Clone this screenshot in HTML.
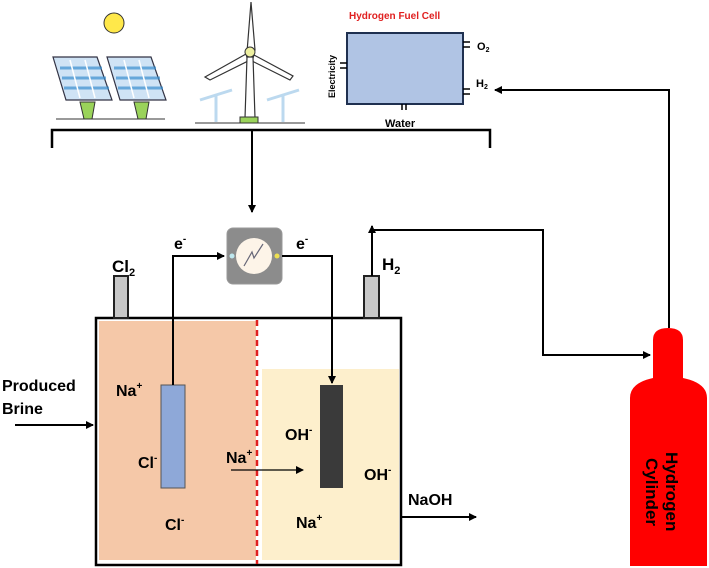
<!DOCTYPE html>
<html><head><meta charset="utf-8"><style>
body{margin:0;background:#fff;}
svg{display:block;font-family:"Liberation Sans",sans-serif;font-weight:bold;}
</style></head><body>
<svg width="709" height="568" viewBox="0 0 709 568" xmlns="http://www.w3.org/2000/svg">
<defs><marker id="a" markerWidth="8" markerHeight="8" refX="7" refY="4" orient="auto" markerUnits="userSpaceOnUse"><path d="M0,0 L8,4 L0,8 Z" fill="#000"/></marker></defs>
<!-- solar panels -->
<circle cx="114" cy="23" r="10" fill="#ffe84a" stroke="#333" stroke-width="1"/>
<g fill="#cfe3f5" stroke="#334" stroke-width="1.2">
<polygon points="53,57 97,57 112,100 66,100"/>
<polygon points="107,57 151,57 166,100 120,100"/>
</g>
<g stroke="#3a8fd0" stroke-width="3" opacity="0.7">
<line x1="60" y1="68" x2="102" y2="68"/><line x1="62" y1="78" x2="106" y2="78"/><line x1="64" y1="88" x2="109" y2="88"/>
<line x1="114" y1="68" x2="156" y2="68"/><line x1="116" y1="78" x2="160" y2="78"/><line x1="118" y1="88" x2="163" y2="88"/>
</g>
<g stroke="#fff" stroke-width="1.5"><line x1="70" y1="60" x2="80" y2="98"/><line x1="85" y1="60" x2="95" y2="98"/><line x1="124" y1="60" x2="134" y2="98"/><line x1="139" y1="60" x2="149" y2="98"/></g>
<polygon points="80,102 95,102 92,119 84,119" fill="#9ad35a" stroke="#333"/>
<polygon points="134,102 149,102 146,119 138,119" fill="#9ad35a" stroke="#333"/>
<line x1="56" y1="119" x2="165" y2="119" stroke="#333"/>
<!-- wind turbine -->
<g stroke="#bcd9ef" stroke-width="3" fill="none"><line x1="216" y1="95" x2="216" y2="122"/><line x1="283" y1="95" x2="283" y2="122"/><line x1="200" y1="100" x2="232" y2="90"/><line x1="267" y1="100" x2="299" y2="90"/></g>
<g fill="#fff" stroke="#333" stroke-width="1.2">
<polygon points="247,52 251,2 255,50"/>
<polygon points="246,54 205,77 210,80 248,61"/>
<polygon points="254,55 293,76 290,80 252,61"/>
<polygon points="247,57 253,57 255,118 245,118"/>
</g>
<circle cx="250" cy="52" r="5" fill="#eef0a0" stroke="#333"/>
<rect x="240" y="117" width="18" height="6" fill="#9ad35a" stroke="#333"/>
<line x1="195" y1="123" x2="305" y2="123" stroke="#333"/>
<!-- fuel cell -->
<text x="349" y="19" font-size="10" fill="#e02020">Hydrogen Fuel Cell</text>
<rect x="347" y="33" width="116" height="71" fill="#b0c4e4" stroke="#1f3050" stroke-width="2"/>
<text transform="translate(335,98) rotate(-90)" font-size="9">Electricity</text>
<text x="477" y="50" font-size="11">O<tspan font-size="7" dy="2">2</tspan></text>
<text x="476" y="87" font-size="11">H<tspan font-size="7" dy="2">2</tspan></text>
<text x="385" y="127" font-size="11">Water</text>
<g stroke="#000" stroke-width="1.5"><line x1="340" y1="63" x2="347" y2="63"/><line x1="340" y1="68" x2="347" y2="68"/><line x1="463" y1="42" x2="470" y2="42"/><line x1="463" y1="47" x2="470" y2="47"/><line x1="463" y1="89" x2="470" y2="89"/><line x1="463" y1="94" x2="470" y2="94"/><line x1="402" y1="104" x2="402" y2="110"/><line x1="406" y1="104" x2="406" y2="110"/></g>
<!-- bracket -->
<g stroke="#000" stroke-width="2.5" fill="none">
<polyline points="52,148 52,130 490,130 490,148"/>
</g>
<line x1="252" y1="130" x2="252" y2="212" stroke="#000" stroke-width="2" marker-end="url(#a)"/>
<!-- inverter -->
<rect x="227" y="228" width="55" height="56" rx="6" fill="#8c8c8c" stroke="#999"/>
<circle cx="254" cy="256" r="18" fill="#fdf4e8"/>
<polyline points="244,266 252,252 254,258 263,244" fill="none" stroke="#667" stroke-width="1.2"/>
<circle cx="232" cy="256" r="2.5" fill="#bfe8ee"/><circle cx="277" cy="256" r="2.5" fill="#eee050"/>
<!-- tank -->
<rect x="99" y="321" width="157" height="239" fill="#f5c8a8"/>
<rect x="262" y="369" width="137" height="191" fill="#fdefcc"/>
<rect x="96" y="318" width="305" height="247" fill="none" stroke="#000" stroke-width="2.5"/>
<line x1="257" y1="320" x2="257" y2="564" stroke="#e02020" stroke-width="2.5" stroke-dasharray="6,4"/>
<rect x="114" y="276" width="14" height="42" fill="#c8c8c8" stroke="#222" stroke-width="2"/>
<rect x="364" y="276" width="15" height="42" fill="#c8c8c8" stroke="#222" stroke-width="2"/>
<rect x="161" y="385" width="24" height="103" fill="#8ea8d8" stroke="#555"/>
<rect x="320" y="385" width="23" height="103" fill="#3a3a3a"/>
<!-- wires -->
<polyline points="173,385 173,256 224,256" fill="none" stroke="#000" stroke-width="2" marker-end="url(#a)"/>
<polyline points="282,256 332,256 332,383" fill="none" stroke="#000" stroke-width="2" marker-end="url(#a)"/>
<text x="174" y="249" font-size="16">e<tspan font-size="10" dy="-7">-</tspan></text>
<text x="296" y="249" font-size="16">e<tspan font-size="10" dy="-7">-</tspan></text>
<line x1="372" y1="276" x2="372" y2="226" stroke="#000" stroke-width="2" marker-end="url(#a)"/>
<polyline points="372,230 543,230 543,355 650,355" fill="none" stroke="#000" stroke-width="2" marker-end="url(#a)"/>
<polyline points="669,328 669,90 495,90" fill="none" stroke="#000" stroke-width="2" marker-end="url(#a)"/>
<text x="112" y="272" font-size="17">Cl<tspan font-size="11" dy="4">2</tspan></text>
<text x="382" y="270" font-size="17">H<tspan font-size="11" dy="4">2</tspan></text>
<!-- cylinder -->
<path d="M653,340 Q653,328 668,328 Q683,328 683,340 L683,378 Q707,383 707,398 L707,566 L630,566 L630,398 Q630,383 653,378 Z" fill="#ff0000"/>
<text transform="translate(666,452) rotate(90)" font-size="17" fill="#000">Hydrogen</text>
<text transform="translate(646,458) rotate(90)" font-size="17" fill="#000">Cylinder</text>
<!-- brine / naoh -->
<text x="2" y="391" font-size="16">Produced</text>
<text x="2" y="414" font-size="16">Brine</text>
<line x1="15" y1="425" x2="93" y2="425" stroke="#000" stroke-width="2" marker-end="url(#a)"/>
<text x="408" y="505" font-size="16">NaOH</text>
<line x1="401" y1="517" x2="476" y2="517" stroke="#000" stroke-width="2" marker-end="url(#a)"/>
<!-- ions -->
<g font-size="16">
<text x="116" y="396">Na<tspan font-size="10" dy="-7">+</tspan></text>
<text x="138" y="468">Cl<tspan font-size="10" dy="-7">-</tspan></text>
<text x="165" y="530">Cl<tspan font-size="10" dy="-7">-</tspan></text>
<text x="226" y="463">Na<tspan font-size="10" dy="-7">+</tspan></text>
<text x="285" y="440">OH<tspan font-size="10" dy="-7">-</tspan></text>
<text x="364" y="480">OH<tspan font-size="10" dy="-7">-</tspan></text>
<text x="296" y="528">Na<tspan font-size="10" dy="-7">+</tspan></text>
</g>
<line x1="231" y1="470" x2="303" y2="470" stroke="#000" stroke-width="1.3" marker-end="url(#a)"/>
</svg>
</body></html>
